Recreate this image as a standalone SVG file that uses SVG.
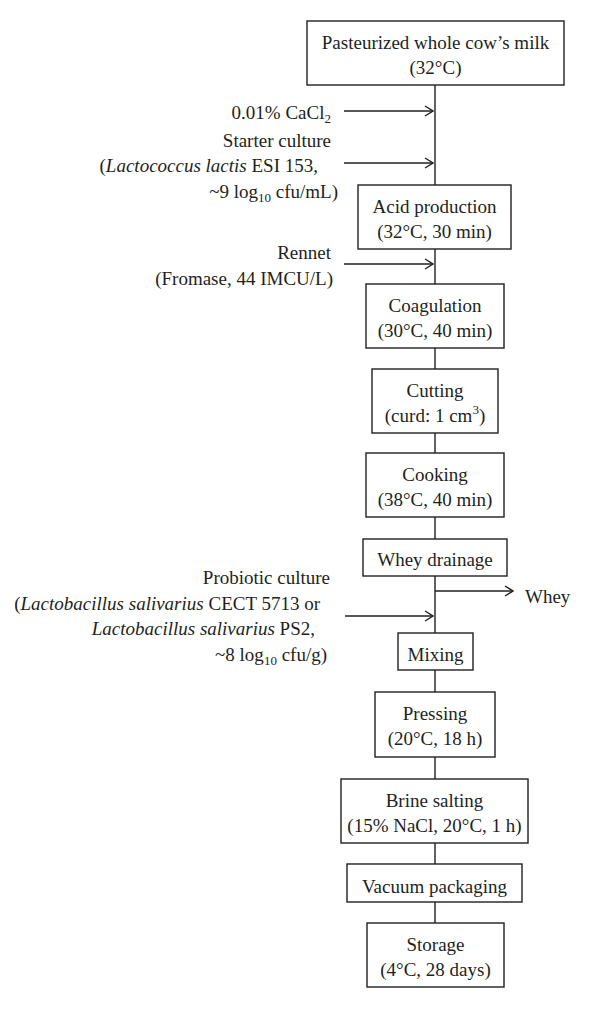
<svg xmlns="http://www.w3.org/2000/svg" width="600" height="1009" viewBox="0 0 600 1009">
<style>
text{font-family:"Liberation Serif","Times New Roman",serif;font-size:19px;fill:#231f20}
.c{text-anchor:middle}
.e{text-anchor:end}
.i{font-style:italic}
.box{fill:#fff;stroke:#231f20;stroke-width:1.4}
.ln{stroke:#231f20;stroke-width:1.4;fill:none}
.sub{font-size:13px}
</style>
<defs>
<marker id="ah" markerWidth="10" markerHeight="12" refX="9" refY="6" orient="auto" markerUnits="userSpaceOnUse">
<path d="M1,1 L9,6 L1,11" fill="none" stroke="#231f20" stroke-width="1.4"/>
</marker>
</defs>
<rect width="600" height="1009" fill="#fff"/>
<g id="connectors">
<line class="ln" x1="435" y1="85" x2="435" y2="185"/>
<line class="ln" x1="435" y1="249" x2="435" y2="284"/>
<line class="ln" x1="435" y1="348" x2="435" y2="369"/>
<line class="ln" x1="435" y1="433" x2="435" y2="453"/>
<line class="ln" x1="435" y1="517" x2="435" y2="539"/>
<line class="ln" x1="435" y1="576" x2="435" y2="633"/>
<line class="ln" x1="435" y1="670" x2="435" y2="692"/>
<line class="ln" x1="435" y1="757" x2="435" y2="779"/>
<line class="ln" x1="435" y1="843" x2="435" y2="864"/>
<line class="ln" x1="435" y1="902" x2="435" y2="923"/>
<line class="ln" x1="344" y1="111" x2="433" y2="111" marker-end="url(#ah)"/>
<line class="ln" x1="344" y1="163" x2="433" y2="163" marker-end="url(#ah)"/>
<line class="ln" x1="344" y1="264" x2="433" y2="264" marker-end="url(#ah)"/>
<line class="ln" x1="345" y1="616" x2="433" y2="616" marker-end="url(#ah)"/>
<line class="ln" x1="435" y1="591" x2="513" y2="591" marker-end="url(#ah)"/>
</g>
<g id="n-milk">
<rect class="box" x="307" y="21" width="257" height="64"/>
<text class="c" x="435.5" y="49">Pasteurized whole cow’s milk</text>
<text class="c" x="435.5" y="74">(32°C)</text>
</g>
<g id="l-cacl2">
<text class="e" x="331" y="119">0.01% CaCl<tspan class="sub" dy="4">2</tspan></text>
</g>
<g id="l-starter">
<text class="e" x="331" y="147">Starter culture</text>
<text class="e" x="318" y="172">(<tspan class="i">Lactococcus lactis</tspan> ESI 153,</text>
<text class="e" x="338" y="198">~9 log<tspan class="sub" dy="4">10</tspan><tspan dy="-4"> cfu/mL)</tspan></text>
</g>
<g id="n-acid">
<rect class="box" x="358" y="185" width="153" height="64"/>
<text class="c" x="434.5" y="213">Acid production</text>
<text class="c" x="434.5" y="238">(32°C, 30 min)</text>
</g>
<g id="l-rennet">
<text class="e" x="331" y="259">Rennet</text>
<text class="e" x="333" y="285">(Fromase, 44 IMCU/L)</text>
</g>
<g id="n-coag">
<rect class="box" x="366" y="284" width="138" height="64"/>
<text class="c" x="435" y="312">Coagulation</text>
<text class="c" x="435" y="337">(30°C, 40 min)</text>
</g>
<g id="n-cut">
<rect class="box" x="372" y="369" width="126" height="64"/>
<text class="c" x="435" y="397">Cutting</text>
<text class="c" x="435" y="422">(curd: 1 cm<tspan class="sub" dy="-8">3</tspan><tspan dy="8">)</tspan></text>
</g>
<g id="n-cook">
<rect class="box" x="366" y="453" width="138" height="64"/>
<text class="c" x="435" y="481">Cooking</text>
<text class="c" x="435" y="506">(38°C, 40 min)</text>
</g>
<g id="n-whey">
<rect class="box" x="363" y="539" width="144" height="37"/>
<text class="c" x="435" y="566">Whey drainage</text>
</g>
<g id="l-whey">
<text x="525" y="603">Whey</text>
</g>
<g id="l-probiotic">
<text class="e" x="330" y="584">Probiotic culture</text>
<text class="e" x="320" y="610">(<tspan class="i">Lactobacillus salivarius</tspan> CECT 5713 or</text>
<text class="e" x="315" y="635"><tspan class="i">Lactobacillus salivarius</tspan> PS2,</text>
<text class="e" x="327" y="661">~8 log<tspan class="sub" dy="4">10</tspan><tspan dy="-4"> cfu/g)</tspan></text>
</g>
<g id="n-mix">
<rect class="box" x="398" y="633" width="75" height="37"/>
<text class="c" x="435.5" y="661">Mixing</text>
</g>
<g id="n-press">
<rect class="box" x="375" y="692" width="120" height="65"/>
<text class="c" x="435" y="720">Pressing</text>
<text class="c" x="435" y="745">(20°C, 18 h)</text>
</g>
<g id="n-brine">
<rect class="box" x="341" y="779" width="187" height="64"/>
<text class="c" x="434.5" y="807">Brine salting</text>
<text class="c" x="434.5" y="832">(15% NaCl, 20°C, 1 h)</text>
</g>
<g id="n-vac">
<rect class="box" x="347" y="864" width="175" height="38"/>
<text class="c" x="434.5" y="893">Vacuum packaging</text>
</g>
<g id="n-storage">
<rect class="box" x="367" y="923" width="137" height="64"/>
<text class="c" x="435.5" y="951">Storage</text>
<text class="c" x="435.5" y="976">(4°C, 28 days)</text>
</g>
</svg>
